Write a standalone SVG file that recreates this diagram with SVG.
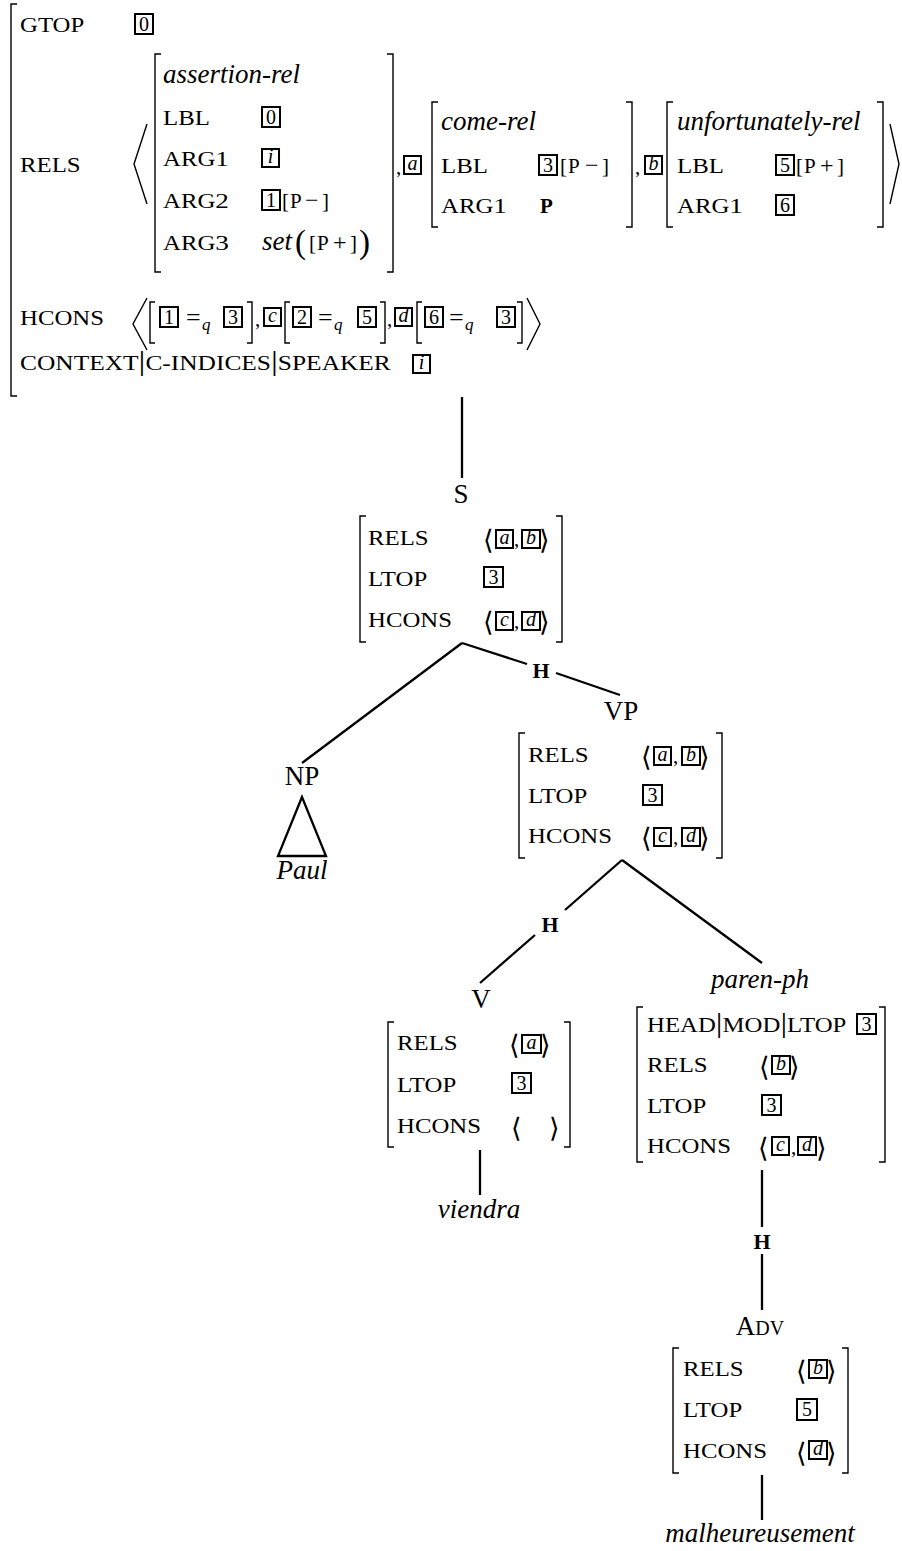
<svg xmlns="http://www.w3.org/2000/svg" width="902" height="1551" viewBox="0 0 902 1551">
<style>
text { font-family: "Liberation Serif", "Times New Roman", serif; fill: #000; }
.sc { font-size: 20px; }
.t { font-size: 21px; }
.op { font-size: 24px; }
.it { font-style: italic; font-size: 27px; }
.node { font-size: 27px; text-anchor: middle; }
.leaf { font-style: italic; font-size: 27px; text-anchor: middle; }
.hb { font-weight: bold; font-size: 22px; text-anchor: middle; }
.bx { fill: none; stroke: #000; stroke-width: 2; }
.bd { font-size: 20px; text-anchor: middle; }
.bl { font-style: italic; font-size: 20px; text-anchor: middle; }
.br { fill: none; stroke: #000; stroke-width: 1.4; }
.ln { fill: none; stroke: #000; stroke-width: 2.3; }
.ang { font-family: "DejaVu Sans", sans-serif; font-size: 27px; }
.bar { font-size: 27px; }
.eq { font-size: 26px; }
.q { font-style: italic; font-size: 17px; }
</style>

<g id="avm-top">
  <path class="br" d="M17,4 H11 V396 H17"/>
  <text class="sc" transform="translate(20,32) scale(1.24,1)">GTOP</text>
  <rect class="bx" x="135" y="14" width="18" height="20"/><text class="bd" x="144" y="31">0</text>

  <text class="sc" transform="translate(20,172) scale(1.24,1)">RELS</text>
  <path class="br" d="M147,124 L134,164 L147,204"/>

  <g id="assertion-rel">
    <path class="br" d="M161,54 H155 V272 H161"/>
    <path class="br" d="M387,54 H393 V272 H387"/>
    <text class="it" x="163" y="83">assertion-rel</text>
    <text class="sc" transform="translate(163,125) scale(1.24,1)">LBL</text>
    <rect class="bx" x="262" y="107" width="18" height="20"/><text class="bd" x="271" y="124">0</text>
    <text class="sc" transform="translate(163,166) scale(1.24,1)">ARG<tspan font-size="22">1</tspan></text>
    <rect class="bx" x="262" y="149" width="17" height="18"/><text class="bl" x="270.5" y="163">i</text>
    <text class="sc" transform="translate(163,208) scale(1.24,1)">ARG<tspan font-size="22">2</tspan></text>
    <rect class="bx" x="262" y="190" width="18" height="20"/><text class="bd" x="271" y="207">1</text>
    <text class="t" y="208"><tspan x="282">[</tspan><tspan x="290" font-size="21">P</tspan><tspan class="op" x="305">−</tspan><tspan x="322">]</tspan></text>
    <text class="sc" transform="translate(163,250) scale(1.24,1)">ARG<tspan font-size="22">3</tspan></text>
    <text class="it" x="262" y="250">set</text>
    <text x="295" y="253" font-size="33">(</text>
    <text class="t" y="250"><tspan x="309">[</tspan><tspan x="317" font-size="21">P</tspan><tspan class="op" x="333">+</tspan><tspan x="350">]</tspan></text>
    <text x="359" y="253" font-size="33">)</text>
  </g>

  <text class="t" x="396" y="174">,</text>
  <rect class="bx" x="404" y="156" width="17" height="18"/><text class="bl" x="412.5" y="170">a</text>

  <g id="come-rel">
    <path class="br" d="M438,102 H432 V227 H438"/>
    <path class="br" d="M626,102 H632 V227 H626"/>
    <text class="it" x="441" y="130">come-rel</text>
    <text class="sc" transform="translate(441,173) scale(1.24,1)">LBL</text>
    <rect class="bx" x="539" y="155" width="18" height="20"/><text class="bd" x="548" y="172">3</text>
    <text class="t" y="173"><tspan x="560">[</tspan><tspan x="568" font-size="21">P</tspan><tspan class="op" x="585">−</tspan><tspan x="602">]</tspan></text>
    <text class="sc" transform="translate(441,213) scale(1.24,1)">ARG<tspan font-size="22">1</tspan></text>
    <text x="540" y="213" font-size="21" font-weight="bold">P</text>
  </g>

  <text class="t" x="635" y="174">,</text>
  <rect class="bx" x="645" y="156" width="17" height="18"/><text class="bl" x="653.5" y="170">b</text>

  <g id="unfortunately-rel">
    <path class="br" d="M673,102 H667 V227 H673"/>
    <path class="br" d="M877,102 H883 V227 H877"/>
    <text class="it" x="677" y="130">unfortunately-rel</text>
    <text class="sc" transform="translate(677,173) scale(1.24,1)">LBL</text>
    <rect class="bx" x="776" y="155" width="18" height="20"/><text class="bd" x="785" y="172">5</text>
    <text class="t" y="173"><tspan x="796">[</tspan><tspan x="804" font-size="21">P</tspan><tspan class="op" x="820">+</tspan><tspan x="837">]</tspan></text>
    <text class="sc" transform="translate(677,213) scale(1.24,1)">ARG<tspan font-size="22">1</tspan></text>
    <rect class="bx" x="776" y="195" width="18" height="20"/><text class="bd" x="785" y="212">6</text>
  </g>
  <path class="br" d="M890,124 L899,164 L890,204"/>

  <text class="sc" transform="translate(20,325) scale(1.24,1)">HCONS</text>
  <path class="br" d="M147,298 L133,324 L147,350"/>
  <path class="br" d="M155,302 H150 V343 H155"/>
  <rect class="bx" x="160" y="307" width="18" height="20"/><text class="bd" x="169" y="324">1</text>
  <text class="eq" x="186" y="326">=</text><text class="q" x="202" y="330">q</text>
  <rect class="bx" x="224" y="307" width="18" height="20"/><text class="bd" x="233" y="324">3</text>
  <path class="br" d="M247,302 H252 V343 H247"/>
  <text class="t" x="255" y="326">,</text>
  <rect class="bx" x="264" y="308" width="17" height="18"/><text class="bl" x="272.5" y="322">c</text>
  <path class="br" d="M290,302 H285 V343 H290"/>
  <rect class="bx" x="293" y="307" width="18" height="20"/><text class="bd" x="302" y="324">2</text>
  <text class="eq" x="318" y="326">=</text><text class="q" x="334" y="330">q</text>
  <rect class="bx" x="358" y="307" width="18" height="20"/><text class="bd" x="367" y="324">5</text>
  <path class="br" d="M380,302 H385 V343 H380"/>
  <text class="t" x="387" y="326">,</text>
  <rect class="bx" x="395" y="308" width="17" height="18"/><text class="bl" x="403.5" y="322">d</text>
  <path class="br" d="M422,302 H417 V343 H422"/>
  <rect class="bx" x="425" y="307" width="18" height="20"/><text class="bd" x="434" y="324">6</text>
  <text class="eq" x="449" y="326">=</text><text class="q" x="465" y="330">q</text>
  <rect class="bx" x="497" y="307" width="18" height="20"/><text class="bd" x="506" y="324">3</text>
  <path class="br" d="M517,302 H522 V343 H517"/>
  <path class="br" d="M527,298 L540,324 L527,350"/>

  <text class="sc" transform="translate(20,370) scale(1.27,1)">CONTEXT<tspan class="bar">|</tspan>C-INDICES<tspan class="bar">|</tspan>SPEAKER</text>
  <rect class="bx" x="413" y="355" width="17" height="18"/><text class="bl" x="421.5" y="369">i</text>
</g>

<g id="connectors">
  <path class="ln" d="M462,397 V478"/>
  <path class="ln" d="M462,643 L302,763"/>
  <path class="ln" d="M462,643 L527,664"/>
  <path class="ln" d="M556,673 L620,695"/>
  <path class="ln" d="M302,797 L278,856 H326 Z"/>
  <path class="ln" d="M622,860 L565,910"/>
  <path class="ln" d="M535,935 L480,983"/>
  <path class="ln" d="M622,860 L762,963"/>
  <path class="ln" d="M480,1150 V1195"/>
  <path class="ln" d="M762,1170 V1227"/>
  <path class="ln" d="M762,1254 V1310"/>
  <path class="ln" d="M762,1475 V1520"/>
  <text class="hb" x="541" y="678">H</text>
  <text class="hb" x="550" y="932">H</text>
  <text class="hb" x="762" y="1249">H</text>
</g>

<g id="node-S">
  <text class="node" x="461" y="503">S</text>
  <path class="br" d="M366,516 H360 V642 H366"/>
  <path class="br" d="M556,516 H562 V642 H556"/>
  <text class="sc" transform="translate(368,545) scale(1.24,1)">RELS</text>
  <text class="ang" x="483" y="549">⟨</text>
  <rect class="bx" x="496" y="530" width="17" height="18"/><text class="bl" x="504.5" y="544">a</text>
  <text class="t" x="514" y="546">,</text>
  <rect class="bx" x="522" y="530" width="18" height="18"/><text class="bl" x="531" y="544">b</text>
  <text class="ang" x="539" y="549">⟩</text>
  <text class="sc" transform="translate(368,586) scale(1.24,1)">LTOP</text>
  <rect class="bx" x="484" y="567" width="19" height="20"/><text class="bd" x="493.5" y="584">3</text>
  <text class="sc" transform="translate(368,627) scale(1.24,1)">HCONS</text>
  <text class="ang" x="483" y="631">⟨</text>
  <rect class="bx" x="496" y="612" width="17" height="18"/><text class="bl" x="504.5" y="626">c</text>
  <text class="t" x="514" y="628">,</text>
  <rect class="bx" x="522" y="612" width="18" height="18"/><text class="bl" x="531" y="626">d</text>
  <text class="ang" x="539" y="631">⟩</text>
</g>

<g id="node-NP">
  <text class="node" x="302" y="785">NP</text>
  <text class="leaf" x="302" y="879">Paul</text>
</g>

<g id="node-VP">
  <text class="node" x="621" y="720">VP</text>
  <path class="br" d="M525,733 H519 V858 H525"/>
  <path class="br" d="M716,733 H722 V858 H716"/>
  <text class="sc" transform="translate(528,762) scale(1.24,1)">RELS</text>
  <text class="ang" x="641" y="766">⟨</text>
  <rect class="bx" x="654" y="747" width="17" height="18"/><text class="bl" x="662.5" y="761">a</text>
  <text class="t" x="673" y="763">,</text>
  <rect class="bx" x="682" y="747" width="18" height="18"/><text class="bl" x="691" y="761">b</text>
  <text class="ang" x="699" y="766">⟩</text>
  <text class="sc" transform="translate(528,803) scale(1.24,1)">LTOP</text>
  <rect class="bx" x="643" y="785" width="19" height="20"/><text class="bd" x="652.5" y="802">3</text>
  <text class="sc" transform="translate(528,843) scale(1.24,1)">HCONS</text>
  <text class="ang" x="641" y="847">⟨</text>
  <rect class="bx" x="654" y="828" width="17" height="18"/><text class="bl" x="662.5" y="842">c</text>
  <text class="t" x="673" y="844">,</text>
  <rect class="bx" x="682" y="828" width="18" height="18"/><text class="bl" x="691" y="842">d</text>
  <text class="ang" x="699" y="847">⟩</text>
</g>

<g id="node-V">
  <text class="node" x="481" y="1008">V</text>
  <path class="br" d="M394,1022 H388 V1147 H394"/>
  <path class="br" d="M564,1022 H570 V1147 H564"/>
  <text class="sc" transform="translate(397,1050) scale(1.24,1)">RELS</text>
  <text class="ang" x="509" y="1054">⟨</text>
  <rect class="bx" x="522" y="1035" width="19" height="18"/><text class="bl" x="531.5" y="1049">a</text>
  <text class="ang" x="540" y="1054">⟩</text>
  <text class="sc" transform="translate(397,1092) scale(1.24,1)">LTOP</text>
  <rect class="bx" x="512" y="1073" width="19" height="20"/><text class="bd" x="521.5" y="1090">3</text>
  <text class="sc" transform="translate(397,1133) scale(1.24,1)">HCONS</text>
  <text class="ang" x="511" y="1137">⟨</text>
  <text class="ang" x="549" y="1137">⟩</text>
  <text class="leaf" x="479" y="1218">viendra</text>
</g>

<g id="node-paren-ph">
  <text class="leaf" x="760" y="988">paren-ph</text>
  <path class="br" d="M643,1007 H637 V1162 H643"/>
  <path class="br" d="M879,1007 H885 V1162 H879"/>
  <text class="sc" transform="translate(647,1032) scale(1.24,1)">HEAD<tspan class="bar">|</tspan>MOD<tspan class="bar">|</tspan>LTOP</text>
  <rect class="bx" x="857" y="1014" width="19" height="20"/><text class="bd" x="866.5" y="1031">3</text>
  <text class="sc" transform="translate(647,1072) scale(1.24,1)">RELS</text>
  <text class="ang" x="759" y="1076">⟨</text>
  <rect class="bx" x="772" y="1056" width="18" height="18"/><text class="bl" x="781" y="1070">b</text>
  <text class="ang" x="789" y="1076">⟩</text>
  <text class="sc" transform="translate(647,1113) scale(1.24,1)">LTOP</text>
  <rect class="bx" x="762" y="1095" width="19" height="20"/><text class="bd" x="771.5" y="1112">3</text>
  <text class="sc" transform="translate(647,1153) scale(1.24,1)">HCONS</text>
  <text class="ang" x="758" y="1157">⟨</text>
  <rect class="bx" x="772" y="1137" width="17" height="18"/><text class="bl" x="780.5" y="1151">c</text>
  <text class="t" x="791" y="1154">,</text>
  <rect class="bx" x="798" y="1137" width="18" height="18"/><text class="bl" x="807" y="1151">d</text>
  <text class="ang" x="816" y="1157">⟩</text>
</g>

<g id="node-Adv">
  <text class="node" x="760" y="1335">A<tspan font-size="20">DV</tspan></text>
  <path class="br" d="M679,1348 H673 V1473 H679"/>
  <path class="br" d="M842,1348 H848 V1473 H842"/>
  <text class="sc" transform="translate(683,1376) scale(1.24,1)">RELS</text>
  <text class="ang" x="796" y="1380">⟨</text>
  <rect class="bx" x="809" y="1360" width="18" height="18"/><text class="bl" x="818" y="1374">b</text>
  <text class="ang" x="826" y="1380">⟩</text>
  <text class="sc" transform="translate(683,1417) scale(1.24,1)">LTOP</text>
  <rect class="bx" x="797" y="1399" width="20" height="21" stroke-width="2.6"/><text class="bd" x="807" y="1416">5</text>
  <text class="sc" transform="translate(683,1458) scale(1.24,1)">HCONS</text>
  <text class="ang" x="796" y="1462">⟨</text>
  <rect class="bx" x="809" y="1441" width="18" height="18"/><text class="bl" x="818" y="1455">d</text>
  <text class="ang" x="826" y="1462">⟩</text>
  <text class="leaf" x="760" y="1542">malheureusement</text>
</g>
</svg>
